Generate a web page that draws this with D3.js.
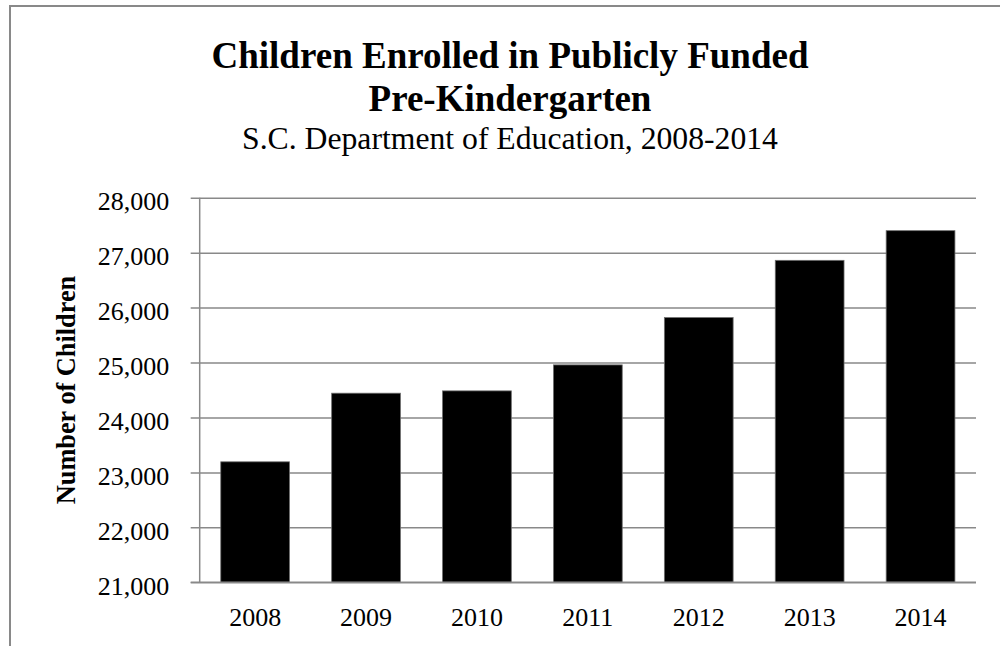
<!DOCTYPE html>
<html>
<head>
<meta charset="utf-8">
<script src="https://cdn.jsdelivr.net/npm/d3@7"></script>
<style>
  html, body { margin: 0; padding: 0; background: #fff; }
  svg { display: block; }
  text { font-family: "Liberation Serif", "Times New Roman", Times, serif; fill: #000; }
</style>
</head>
<body>
<svg id="chart" width="1000" height="646"></svg>
<script>
const years = ["2008", "2009", "2010", "2011", "2012", "2013", "2014"];
const enrolled = [23193, 24442, 24484, 24957, 25818, 26860, 27400];
const yTicks = [21000, 22000, 23000, 24000, 25000, 26000, 27000, 28000];
const titleLines = ["Children Enrolled in Publicly Funded", "Pre-Kindergarten"];
const subtitle = "S.C. Department of Education, 2008-2014";
const yTitle = "Number of Children";

const W = 1000, H = 646;
const plot = { left: 199.7, right: 976, top: 197.7, bottom: 582.3 };
const gray = "#898989";

const svg = d3.select("#chart");

// chart border (left and top visible)
svg.append("path")
  .attr("d", `M10,${H} L10,6 L${W},6`)
  .attr("fill", "none")
  .attr("stroke", gray)
  .attr("stroke-width", 2);

const x = d3.scaleBand().domain(years).range([plot.left, plot.right]).padding(0);
const y = d3.scaleLinear().domain([21000, 28000]).range([plot.bottom, plot.top]);

// gridlines + ticks via axis
const yAxis = d3.axisLeft(y)
  .tickValues(yTicks)
  .tickSize(-(plot.right - plot.left))
  .tickFormat(d3.format(","));
const gy = svg.append("g")
  .attr("transform", `translate(${plot.left},0)`)
  .call(yAxis);
gy.select(".domain").remove();
gy.selectAll(".tick line")
  .attr("x1", -9)
  .attr("stroke", gray)
  .attr("stroke-width", 1.5);
gy.selectAll(".tick text")
  .attr("x", -30.5)
  .attr("dy", "0.47em")
  .attr("font-size", 26)
  .style("font-family", "'Liberation Serif', 'Times New Roman', serif");

// bars
const barW = x.bandwidth() * 0.62;
svg.append("g").selectAll("rect")
  .data(years.map((yr, i) => ({ yr, v: enrolled[i] })))
  .join("rect")
  .attr("x", d => x(d.yr) + (x.bandwidth() - barW) / 2)
  .attr("y", d => y(d.v))
  .attr("width", barW)
  .attr("height", d => y(21000) - y(d.v))
  .attr("fill", "#000")
  .attr("stroke", "#6e6e6e")
  .attr("stroke-width", 0.8);

// axis lines
svg.append("line")
  .attr("x1", plot.left).attr("x2", plot.left)
  .attr("y1", plot.top).attr("y2", plot.bottom)
  .attr("stroke", gray).attr("stroke-width", 1.5);

const xAxis = d3.axisBottom(x).tickSize(0);
const gx = svg.append("g")
  .attr("transform", `translate(0,${plot.bottom})`)
  .call(xAxis);
gx.select(".domain").attr("stroke", gray).attr("stroke-width", 1.5)
  .attr("d", `M${plot.left - 9},0H${plot.right}`);
gx.selectAll(".tick text")
  .attr("y", 0)
  .attr("dy", 43.5)
  .attr("font-size", 26)
  .style("font-family", "'Liberation Serif', 'Times New Roman', serif");

// titles
const cx = 510;
svg.append("text")
  .attr("x", cx).attr("y", 68)
  .attr("text-anchor", "middle")
  .attr("font-weight", "bold")
  .attr("font-size", 37)
  .selectAll("tspan")
  .data(titleLines)
  .join("tspan")
  .attr("x", cx)
  .attr("dy", (d, i) => i === 0 ? 0 : 43)
  .text(d => d);

svg.append("text")
  .attr("x", cx).attr("y", 149)
  .attr("text-anchor", "middle")
  .attr("font-size", 31.7)
  .text(subtitle);

// y axis title
svg.append("text")
  .attr("transform", `translate(75,${(plot.top + plot.bottom) / 2}) rotate(-90)`)
  .attr("text-anchor", "middle")
  .attr("font-weight", "bold")
  .attr("font-size", 26.3)
  .text(yTitle);
</script>
</body>
</html>
